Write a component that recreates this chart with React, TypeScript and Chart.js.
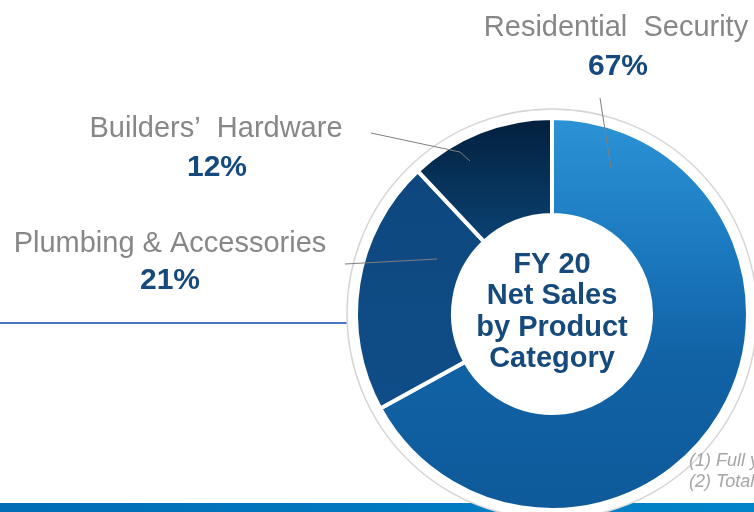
import React, { useEffect, useRef } from "react";
import { Chart, registerables } from "chart.js";

Chart.register(...registerables);

const categories = ["Residential Security", "Plumbing & Accessories", "Builders’ Hardware"];
const categoryLabelText = ["Residential  Security", "Plumbing & Accessories", "Builders’  Hardware"];
const shares = [67, 21, 12];
const centerTitle = ["FY 20", "Net Sales", "by Product", "Category"];
const footnotes = ["(1) Full year", "(2) Total"];

const W = 754;
const H = 512;

export default function App() {
  const ref = useRef<HTMLCanvasElement | null>(null);

  useEffect(() => {
    const canvas = ref.current;
    if (!canvas) return;

    const sliceColor = (ctx: any) => {
      const chart = ctx.chart;
      const c = chart.ctx as CanvasRenderingContext2D;
      const i = ctx.dataIndex;
      if (i === 0) {
        const g = c.createLinearGradient(0, 118, 0, 510);
        g.addColorStop(0, "#2B93D5");
        g.addColorStop(0.3, "#1E7CC2");
        g.addColorStop(0.6, "#1163A6");
        g.addColorStop(1, "#0E5A9A");
        return g;
      }
      if (i === 1) {
        const g = c.createLinearGradient(0, 170, 0, 400);
        g.addColorStop(0, "#0E477E");
        g.addColorStop(1, "#0F4D88");
        return g;
      }
      const g = c.createLinearGradient(0, 118, 0, 250);
      g.addColorStop(0, "#03203D");
      g.addColorStop(1, "#0B4476");
      return g;
    };

    const decor = {
      id: "decor",
      beforeDatasetsDraw(chart: any) {
        const c = chart.ctx as CanvasRenderingContext2D;
        const arc = chart.getDatasetMeta(0).data[0];
        const cx = arc.x;
        const cy = arc.y;
        c.save();
        // bottom band
        const bg = c.createLinearGradient(0, 0, W, 0);
        bg.addColorStop(0, "#006DB6");
        bg.addColorStop(1, "#0084C9");
        c.fillStyle = bg;
        c.fillRect(0, 503, W, H - 503);
        // horizontal rule
        c.strokeStyle = "#4A74C6";
        c.lineWidth = 2;
        c.beginPath();
        c.moveTo(0, 323);
        c.lineTo(350, 323);
        c.stroke();
        // white disc + grey ring
        c.fillStyle = "#FFFFFF";
        c.beginPath();
        c.arc(cx, cy, 205, 0, Math.PI * 2);
        c.fill();
        c.strokeStyle = "#D6D6D6";
        c.lineWidth = 1.5;
        c.stroke();
        c.restore();
      },
      afterDatasetsDraw(chart: any) {
        const c = chart.ctx as CanvasRenderingContext2D;
        const arc = chart.getDatasetMeta(0).data[0];
        const cx = arc.x;
        const cy = arc.y;
        c.save();
        // leader lines
        c.strokeStyle = "#7F7F7F";
        c.lineWidth = 1;
        c.beginPath();
        c.moveTo(600, 98);
        c.lineTo(cx + 59, cy - 146);
        c.stroke();
        c.beginPath();
        c.moveTo(371, 133);
        c.lineTo(460, 152);
        c.lineTo(cx - 82, cy - 153);
        c.stroke();
        c.beginPath();
        c.moveTo(345, 264);
        c.lineTo(cx - 115, cy - 55);
        c.stroke();

        // category labels
        const namePos = [
          [616, 36],
          [170, 252],
          [216, 137],
        ];
        const pctPos = [
          [618, 75],
          [170, 289],
          [217, 176],
        ];
        c.textAlign = "center";
        c.textBaseline = "alphabetic";
        for (let i = 0; i < categories.length; i++) {
          c.fillStyle = "#878787";
          c.font = '29px "Liberation Sans", Arial, sans-serif';
          c.fillText(categoryLabelText[i], namePos[i][0], namePos[i][1]);
          c.fillStyle = "#174A7C";
          c.font = 'bold 30px "Liberation Sans", Arial, sans-serif';
          c.fillText(shares[i] + "%", pctPos[i][0], pctPos[i][1]);
        }

        // center title
        c.fillStyle = "#174A7C";
        c.font = 'bold 29px "Liberation Sans", Arial, sans-serif';
        const offs = [-41, -10, 22, 53];
        centerTitle.forEach((t, k) => c.fillText(t, cx, cy + offs[k]));

        // footnotes
        c.textAlign = "left";
        c.fillStyle = "#A6A6A6";
        c.font = 'italic 18px "Liberation Sans", Arial, sans-serif';
        c.fillText(footnotes[0], 689, 466);
        c.fillText(footnotes[1], 689, 487);
        c.restore();
      },
    };

    const chart = new Chart(canvas, {
      type: "doughnut",
      data: {
        labels: categories,
        datasets: [
          {
            data: shares,
            backgroundColor: sliceColor as any,
            borderColor: "#FFFFFF",
            borderWidth: 4,
          },
        ],
      },
      options: {
        responsive: false,
        animation: false,
        events: [],
        radius: 196,
        cutout: 98,
        layout: { padding: { left: 356, right: 6, top: 118, bottom: 2 } },
        plugins: {
          legend: { display: false },
          tooltip: { enabled: false },
        },
      } as any,
      plugins: [decor],
    });

    return () => chart.destroy();
  }, []);

  return (
    <div style={{ position: "fixed", left: 0, top: 0, width: W, height: H, background: "#FFFFFF" }}>
      <canvas ref={ref} width={W} height={H} style={{ display: "block", width: W, height: H }} />
    </div>
  );
}
